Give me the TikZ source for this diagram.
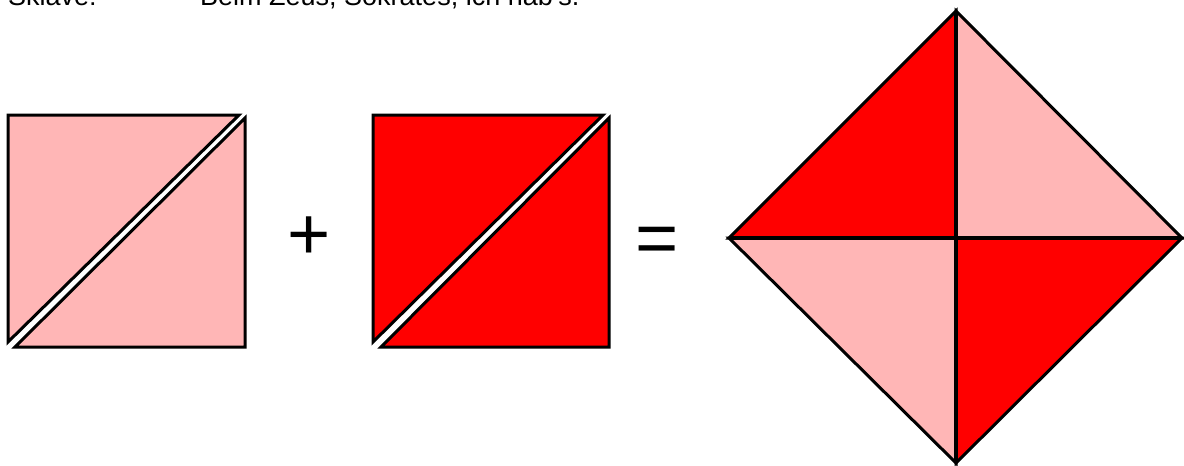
\documentclass[tikz,border=0pt]{standalone}
\usepackage{fontspec}
\setmainfont{Liberation Sans}
\definecolor{lightred}{RGB}{255,182,182}
\definecolor{fullred}{RGB}{255,0,0}
\tikzset{
  tri/.style={draw=black, line width=3pt, line join=miter},
  light/.style={tri, fill=lightred},
  dark/.style={tri, fill=fullred},
  caption/.style={inner sep=0pt, anchor=base west, font=\fontsize{27}{30}\selectfont},
  sign/.style={inner sep=0pt, anchor=base, font=\fontsize{74}{80}\selectfont}
}
\begin{document}
\begin{tikzpicture}[x=1pt,y=-1pt]
\useasboundingbox (0,0) rectangle (1184,466);
% caption (cut off at the top)
\node[caption] (sklave) at (8,5.5) {Sklave:};
\node[caption] (zeus) at (200,5.5) {Beim Zeus, Sokrates, ich hab's.};
% first square (light)
\coordinate (a1) at (8,115);
\coordinate (a2) at (239,115);
\coordinate (a3) at (8,342);
\coordinate (b1) at (245,118);
\coordinate (b2) at (245,347);
\coordinate (b3) at (15,347);
\draw[light] (a1) -- (a2) -- (a3) -- cycle;
\draw[light] (b1) -- (b2) -- (b3) -- cycle;
% second square (red)
\coordinate (c1) at (373,115);
\coordinate (c2) at (603,115);
\coordinate (c3) at (373,342);
\coordinate (d1) at (609,118);
\coordinate (d2) at (609,347);
\coordinate (d3) at (381,347);
\draw[dark] (c1) -- (c2) -- (c3) -- cycle;
\draw[dark] (d1) -- (d2) -- (d3) -- cycle;
% signs
\node[sign] (plus) at (309.5,259) {+};
\node[sign] (equals) at (657,263) {=};
% diamond
\coordinate (top) at (956,11);
\coordinate (bot) at (956,463);
\coordinate (lft) at (729,238);
\coordinate (rgt) at (1182,238);
\coordinate (mid) at (956,238);
\draw[dark] (lft) -- (top) -- (mid) -- cycle;
\draw[light] (top) -- (rgt) -- (mid) -- cycle;
\draw[light] (lft) -- (mid) -- (bot) -- cycle;
\draw[dark] (mid) -- (rgt) -- (bot) -- cycle;
\draw[line width=3.5pt] (top) -- (bot);
\draw[line width=3.5pt] (lft) -- (rgt);
\end{tikzpicture}
\end{document}
